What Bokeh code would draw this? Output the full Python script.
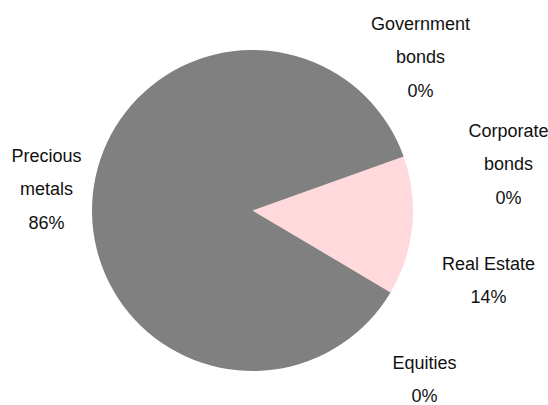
import math
from bokeh.plotting import figure
from bokeh.models import Range1d, ColumnDataSource
from bokeh.core.properties import value
from bokeh.embed import file_html
from bokeh.resources import INLINE

# Data (counter-clockwise order starting at the lower edge of Real Estate)
categories = ["Real Estate", "Corporate bonds", "Government bonds", "Precious metals", "Equities"]
shares = [14, 0, 0, 86, 0]
colors = ["#FFD9DC", "#4472C4", "#ED7D31", "#808080", "#A5A5A5"]
# how each label is broken into lines
label_lines = [["Real Estate"], ["Corporate", "bonds"], ["Government", "bonds"], ["Precious", "metals"], ["Equities"]]

W, H = 548, 405
p = figure(width=W, height=H, output_backend="svg", toolbar_location=None,
           x_range=Range1d(0, W), y_range=Range1d(0, H), min_border=0)
p.axis.visible = False
p.grid.visible = False
p.outline_line_color = None
p.background_fill_color = "white"
p.border_fill_color = "white"

cx, cy, r = 252, H - 210, 160.5
start0 = math.radians(-30.7)
total = sum(shares)
starts, ends, cols, cats = [], [], [], []
a = start0
for s, c, cat in zip(shares, colors, categories):
    b = a + s / total * 2 * math.pi
    if s > 0:
        starts.append(a)
        ends.append(b)
        cols.append(c)
        cats.append(cat)
    a = b

src = ColumnDataSource(dict(start=starts, end=ends, color=cols, cat=cats))
p.wedge(x=cx, y=cy, radius=r, start_angle="start", end_angle="end",
        fill_color="color", line_color=None, source=src)

# label anchor (centre of first line) in pixels from top-left
label_pos = {
    "Real Estate": (488, 263),
    "Corporate bonds": (508, 130),
    "Government bonds": (420, 23),
    "Precious metals": (46, 155),
    "Equities": (424, 362),
}
line_gap = 33.5
xs, ys, txts = [], [], []
for cat, val, lines in zip(categories, shares, label_lines):
    lx, ly = label_pos[cat]
    allines = lines + [f"{val}%"]
    for i, t in enumerate(allines):
        xs.append(lx)
        ys.append(H - (ly + i * line_gap))
        txts.append(t)

p.text(x=xs, y=ys, text=txts, text_align="center", text_baseline="middle",
       text_font=value("Liberation Sans"), text_font_size="18px", text_color="#111111")

open("out.html", "w").write(file_html(p, INLINE))
